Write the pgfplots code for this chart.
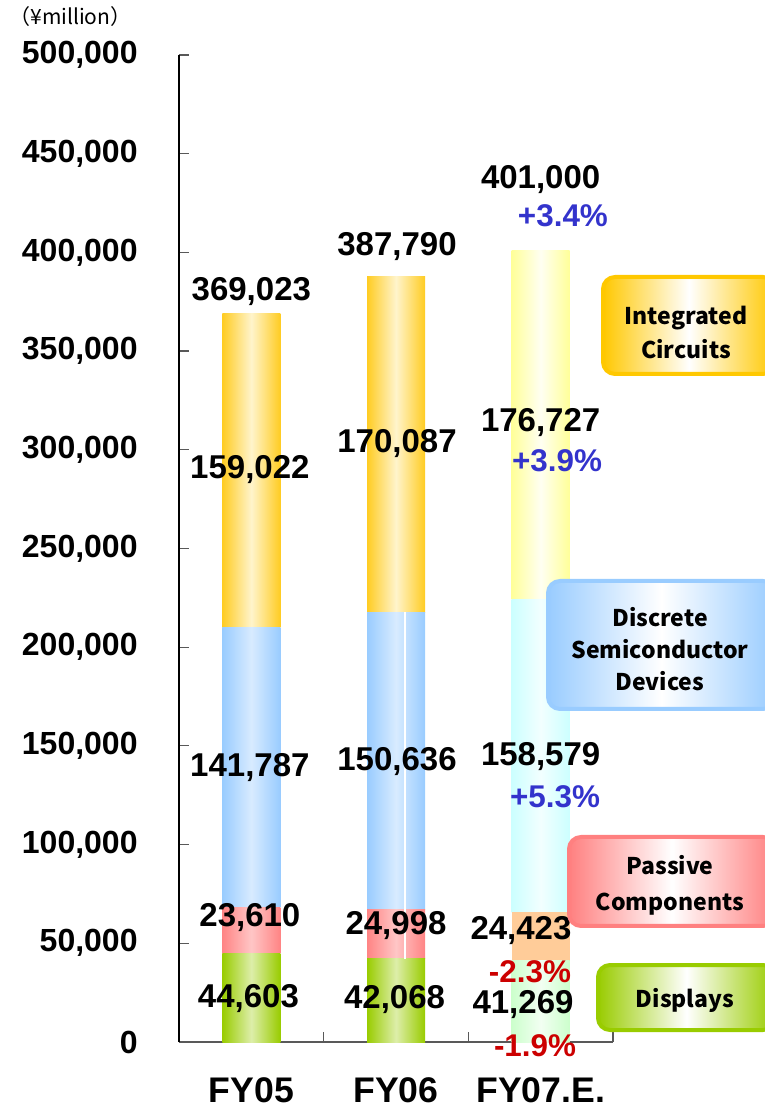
\documentclass[border=0pt]{standalone}
\usepackage{fontspec}
\setmainfont{Liberation Sans}
\newfontfamily\cjk{Noto Sans CJK JP}
\usepackage{pgfplots}
\pgfplotsset{compat=1.18}

% bar colours FY05/FY06
\definecolor{icE}{HTML}{FFCC22}
\definecolor{icM}{HTML}{FFF4CC}
\definecolor{dsE}{HTML}{99CCFF}
\definecolor{dsM}{HTML}{D8EBFF}
\definecolor{paE}{HTML}{FF8484}
\definecolor{paM}{HTML}{FFC6C6}
\definecolor{diE}{HTML}{99CC00}
\definecolor{diM}{HTML}{DDEEAA}
% bar colours FY07.E.
\definecolor{ic7E}{HTML}{FFFF99}
\definecolor{ic7M}{HTML}{FFFFF2}
\definecolor{ds7E}{HTML}{CCFFFF}
\definecolor{ds7M}{HTML}{F2FFFF}
\definecolor{pa7}{HTML}{FFCC99}
\definecolor{di7E}{HTML}{CCFFCC}
\definecolor{di7M}{HTML}{F2FFF2}
% legend boxes
\definecolor{bxIC}{HTML}{FFC800}
\definecolor{bxDS}{HTML}{99CCFF}
\definecolor{bxPA}{HTML}{FF8080}
\definecolor{bxDI}{HTML}{99CC00}
\definecolor{pctB}{HTML}{3333CC}
\definecolor{pctR}{HTML}{CC0000}

\newcommand{\vf}{\bfseries\fontsize{16.5}{18}\selectfont}
\newcommand{\pf}{\bfseries\fontsize{15.7}{18}\selectfont}

\tikzset{
  val/.style={font=\vf, inner sep=0pt},
  pct/.style={font=\pf, inner sep=0pt},
  box/.style={line width=2pt, rounded corners=6pt},
  boxtxt/.style={font=\cjk\bfseries\fontsize{11.5}{17}\selectfont, align=center, inner sep=0pt},
}
% one axis per year, all the same size, so that each bar gets its own gradient
\pgfplotsset{
  base/.style={
    at={(0,0)}, anchor=south west,
    scale only axis, width=217pt, height=493.5pt,
    xmin=0, xmax=3, ymin=0, ymax=500000,
    enlargelimits=false, clip=false,
    ybar stacked, bar width=29pt,
  },
  sh/.style n args={2}{draw=none, left color=#1, right color=#1, middle color=#2},
}

\begin{document}
\begin{tikzpicture}
\begin{axis}[base,
  axis x line*=bottom, axis y line*=left,
  x axis line style={gray!70!black, line width=0.8pt},
  y axis line style={black, line width=0.8pt},
  xtick={0.5,1.5,2.5}, xticklabels={FY05,FY06,FY07.E.},
  xtick style={draw=none},
  ytick={0,50000,100000,150000,200000,250000,300000,350000,400000,450000,500000},
  ytick style={gray!70!black, line width=0.6pt},
  major tick length=5pt, tick align=inside,
  scaled y ticks=false,
  yticklabel style={font=\bfseries\fontsize{16}{18}\selectfont, anchor=east, inner sep=0pt, xshift=-20.5pt,
    /pgf/number format/.cd, fixed, 1000 sep={,}, assume math mode=true},
  xticklabel style={font=\bfseries\fontsize{17.8}{20}\selectfont, anchor=north, inner sep=0pt, yshift=-17.5pt},
]
% FY05: displays, passive, discrete, integrated circuits
\addplot[sh={diE}{diM}] coordinates {(0.5,44603)};
\addplot[sh={paE}{paM}] coordinates {(0.5,23610)};
\addplot[sh={dsE}{dsM}] coordinates {(0.5,141787)};
\addplot[sh={icE}{icM}] coordinates {(0.5,159022)};

% anchor points for the labels
\coordinate (s0) at (axis cs:1.562,42068);
\coordinate (s1) at (axis cs:1.562,217702);
\coordinate (t1) at (axis cs:1,0);
\coordinate (t2) at (axis cs:2,0);
\coordinate (t3) at (axis cs:3,0);
\coordinate (a1) at (axis cs:0.5,379940);
\coordinate (a2) at (axis cs:1.507,403200);
\coordinate (a3) at (axis cs:2.5,436700);
\coordinate (a4) at (axis cs:2.654,418400);
\coordinate (b1) at (axis cs:0.49,289770);
\coordinate (b2) at (axis cs:1.507,303400);
\coordinate (b3) at (axis cs:2.5,313600);
\coordinate (b4) at (axis cs:2.613,294300);
\coordinate (c1) at (axis cs:0.49,138800);
\coordinate (c2) at (axis cs:1.507,141850);
\coordinate (c3) at (axis cs:2.5,144400);
\coordinate (c4) at (axis cs:2.599,124100);
\coordinate (d1) at (axis cs:0.49,62800);
\coordinate (d2) at (axis cs:1.5,58760);
\coordinate (d3) at (axis cs:2.364,56230);
\coordinate (d4) at (axis cs:2.426,35460);
\coordinate (e1) at (axis cs:0.48,21780);
\coordinate (e2) at (axis cs:1.49,21280);
\coordinate (e3) at (axis cs:2.378,18740);
\coordinate (e4) at (axis cs:2.461,-2030);
\end{axis}

\begin{axis}[base, hide axis]
% FY06
\addplot[sh={diE}{diM}] coordinates {(1.5,42068)};
\addplot[sh={paE}{paM}] coordinates {(1.5,24998)};
\addplot[sh={dsE}{dsM}] coordinates {(1.5,150636)};
\addplot[sh={icE}{icM}] coordinates {(1.5,170087)};
\end{axis}

\begin{axis}[base, hide axis]
% FY07.E.
\addplot[sh={di7E}{di7M}] coordinates {(2.5,41269)};
\addplot[draw=none, fill=pa7] coordinates {(2.5,24423)};
\addplot[sh={ds7E}{ds7M}] coordinates {(2.5,158579)};
\addplot[sh={ic7E}{ic7M}] coordinates {(2.5,176727)};
\end{axis}

% white seam in FY06 bar
\draw[white, line width=0.8pt] (s0) -- (s1);
% category boundary ticks
\foreach \t in {t1,t2,t3} \draw[gray!70!black, line width=0.6pt] (\t) -- ++(0,5pt);

% totals
\node[val] at (a1) {369,023};
\node[val] at (a2) {387,790};
\node[val] at (a3) {401,000};
\node[pct, pctB] at (a4) {+3.4\%};
% integrated circuits
\node[val] at (b1) {159,022};
\node[val] at (b2) {170,087};
\node[val] at (b3) {176,727};
\node[pct, pctB] at (b4) {+3.9\%};
% discrete
\node[val] at (c1) {141,787};
\node[val] at (c2) {150,636};
\node[val] at (c3) {158,579};
\node[pct, pctB] at (c4) {+5.3\%};
% passive
\node[val] at (d1) {23,610};
\node[val] at (d2) {24,998};
\node[val] at (d3) {24,423};
\node[pct, pctR] at (d4) {-2.3\%};
% displays
\node[val] at (e1) {44,603};
\node[val] at (e2) {42,068};
\node[val] at (e3) {41,269};
\node[pct, pctR] at (e4) {-1.9\%};

% unit
\node[anchor=west, inner sep=0pt, font=\cjk\fontsize{10.5}{12}\selectfont] at (-85pt,512.5pt) {（¥million）};

% legend boxes
\draw[box, draw=bxIC, left color=bxIC, right color=bxIC, middle color=white] (212pt,334pt) rectangle (298pt,382.5pt);
\node[boxtxt] at (253.5pt,354.75pt) {Integrated\\Circuits};
\draw[box, draw=bxDS, left color=bxDS, right color=bxDS, middle color=white] (184.5pt,166.5pt) rectangle (298pt,230.5pt);
\node[boxtxt, font=\cjk\bfseries\fontsize{11.5}{16}\selectfont] at (240.5pt,196.5pt) {Discrete\\Semiconductor\\Devices};
\draw[box, draw=bxPA, left color=bxPA, right color=bxPA, middle color=white] (195pt,58pt) rectangle (298pt,102.5pt);
\node[boxtxt, font=\cjk\bfseries\fontsize{11.5}{18}\selectfont] at (245.5pt,78.5pt) {Passive\\Components};
\draw[box, draw=bxDI, left color=bxDI, right color=bxDI, middle color=white] (209.5pt,6pt) rectangle (298pt,38.5pt);
\node[boxtxt] at (253pt,21pt) {Displays};

\pgfresetboundingbox
\path (-89.5pt,-33pt) rectangle (293pt,521pt);
\end{tikzpicture}
\end{document}
